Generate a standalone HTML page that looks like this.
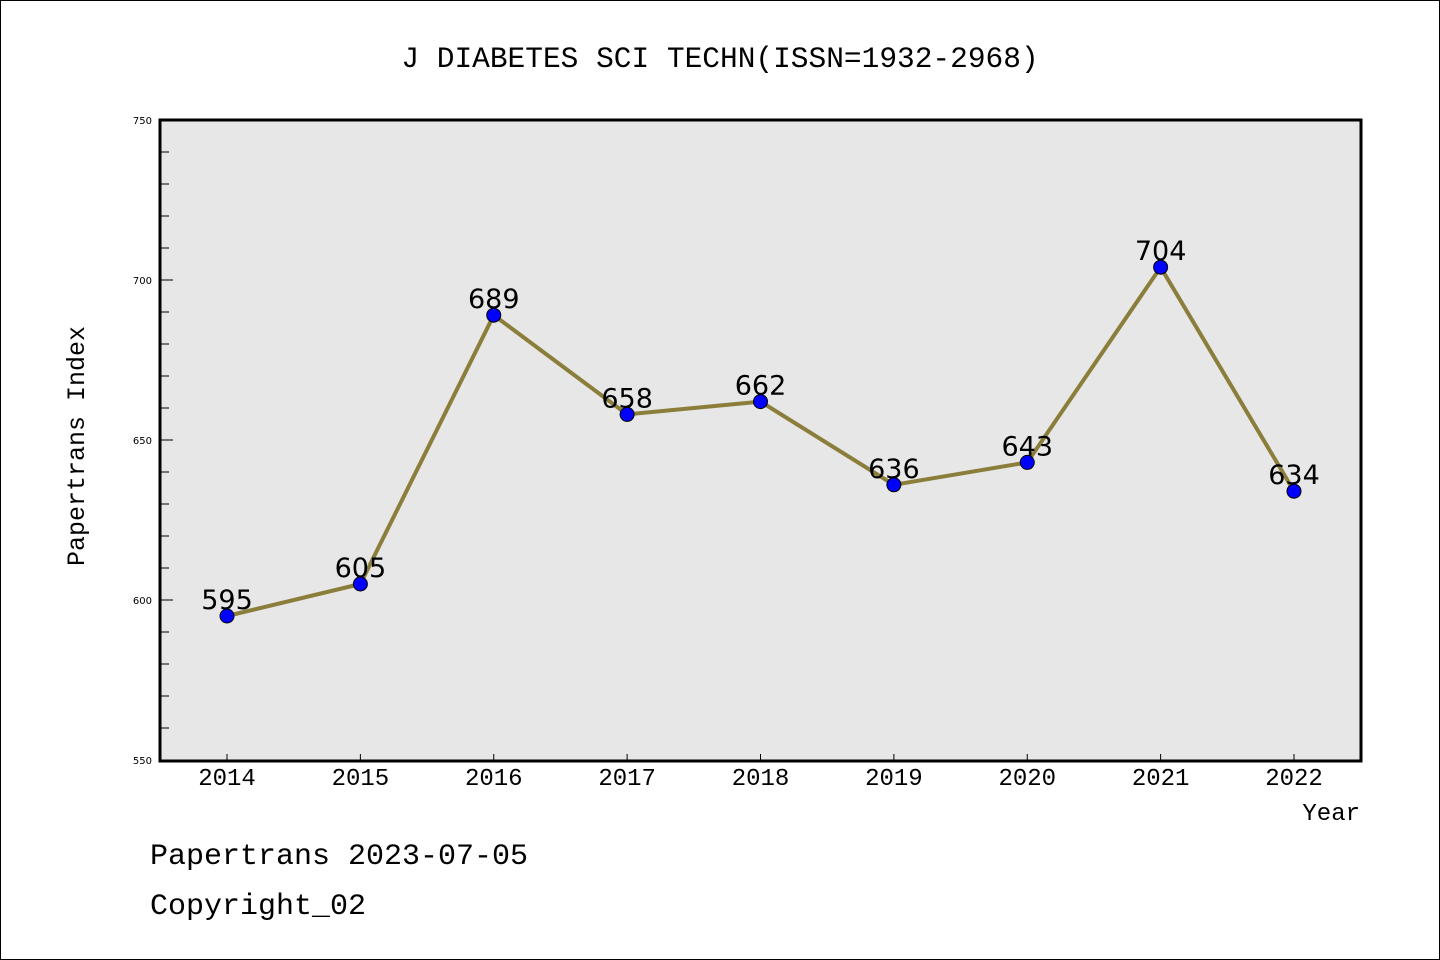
<!DOCTYPE html>
<html><head><meta charset="utf-8"><style>
html,body{margin:0;padding:0;background:#fff}
svg{display:block;font-family:"Liberation Mono",monospace}
</style></head><body>
<svg id="c" width="1440" height="960">
<rect x="0.5" y="0.5" width="1439" height="959" fill="#fff" stroke="#000"/>
<text x="720" y="67" font-size="29.5" text-anchor="middle">J DIABETES SCI TECHN(ISSN=1932-2968)</text>
<rect x="160" y="120" width="1201" height="641" fill="#e7e7e7"/>
<g id="ticks"></g>
<g id="series"></g>
<rect x="160" y="120" width="1201" height="641" fill="none" stroke="#000" stroke-width="3"/>
<text x="84" y="446" font-size="25" text-anchor="middle" transform="rotate(-90 84 446)">Papertrans Index</text>
<text x="1360" y="820" font-size="24" text-anchor="end">Year</text>
<text x="150" y="864" font-size="30">Papertrans 2023-07-05</text>
<text x="150" y="914" font-size="30">Copyright_02</text>
</svg>
<script>
const years=[2014,2015,2016,2017,2018,2019,2020,2021,2022];
const values=[595,605,689,658,662,636,643,704,634];
const yTicks=[550,600,650,700,750];
const NS="http://www.w3.org/2000/svg";
const x=i=>227+i*(1294-227)/(years.length-1);
const y=v=>760-(v-550)*3.2;
function mk(t,a,p){const e=document.createElementNS(NS,t);for(const k in a)e.setAttribute(k,a[k]);p.appendChild(e);return e;}
const tg=document.getElementById('ticks');
for(let v=550;v<=750;v+=10){
  const major=v%50===0;
  const l=mk('line',{x1:161,x2:major?173:169,y1:y(v),y2:y(v),stroke:'#000','stroke-width':1},tg);
  
  
}
yTicks.forEach(v=>{
  const t=mk('text',{x:152,y:y(v)+4,'font-size':10,'text-anchor':'end','font-family':'DejaVu Sans, sans-serif'},tg);
  t.textContent=v;
  
  
});
years.forEach((yr,i)=>{
  const l=mk('line',{x1:x(i),x2:x(i),y1:760,y2:754,stroke:'#000','stroke-width':1},tg);
  
  
  const t=mk('text',{x:x(i),y:785,'font-size':24,'text-anchor':'middle'},tg);
  t.textContent=yr;
  
  
});
const sg=document.getElementById('series');
const pl=mk('polyline',{points:values.map((v,i)=>x(i)+','+y(v)).join(' '),fill:'none',stroke:'#8b7d3a','stroke-width':4,'stroke-linejoin':'round'},sg);


values.forEach((v,i)=>{
  const c=mk('circle',{cx:x(i),cy:y(v),r:7,fill:'#0000ff',stroke:'#000','stroke-width':1},sg);
  
  
  const t=mk('text',{x:x(i),y:y(v)-7,'font-size':27,'text-anchor':'middle','font-family':'DejaVu Sans, sans-serif'},sg);
  t.textContent=v;
  
  
});
</script>
</body></html>
